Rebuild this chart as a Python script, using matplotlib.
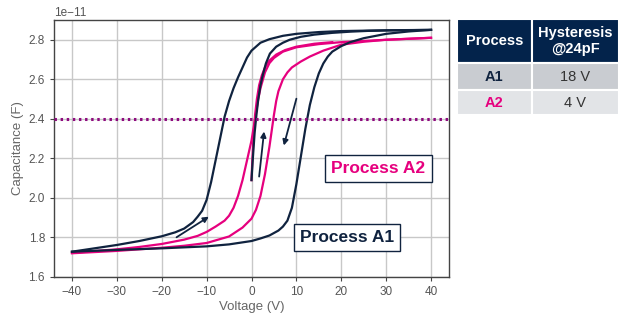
import numpy as np
import matplotlib
matplotlib.use("Agg")
import matplotlib.pyplot as plt

plt.rcParams["font.family"] = ["Liberation Sans", "DejaVu Sans"]

NAVY = "#10233f"
PINK = "#e6007e"
SCALE = 1e-11

# Process A1 (navy) - forward sweep -40 -> 40
a1_up_v = [-40, -35, -30, -25, -20, -17, -15, -13, -12, -11, -10, -9, -8, -7, -6, -5,
           -4, -3, -2, -1, 0, 2, 4, 7, 10, 15, 20, 30, 40]
a1_up_c = [1.728, 1.745, 1.762, 1.782, 1.806, 1.826, 1.845, 1.878, 1.905, 1.935, 1.99,
           2.08, 2.19, 2.30, 2.41, 2.49, 2.555, 2.61, 2.66, 2.71, 2.745, 2.785, 2.803,
           2.82, 2.83, 2.839, 2.844, 2.848, 2.850]
# Process A1 - reverse sweep 40 -> -40
a1_dn_v = [40, 35, 30, 25, 22, 20, 18, 17, 16, 15, 14, 13, 12, 11, 10, 9, 8, 7, 6, 4,
           2, 0, -5, -10, -20, -30, -40]
a1_dn_c = [2.850, 2.842, 2.830, 2.808, 2.788, 2.768, 2.74, 2.715, 2.68, 2.63, 2.56,
           2.47, 2.35, 2.21, 2.07, 1.95, 1.885, 1.855, 1.835, 1.81, 1.795, 1.782, 1.765,
           1.755, 1.745, 1.737, 1.728]
# Process A1 - first sweep starting at 0 V
a1_0_v = [0, 0.3, 0.7, 1.1, 1.5, 2.0, 2.5, 3.2, 4.1, 5.5, 7, 8.5, 11, 14, 18, 22, 26, 30, 40]
a1_0_c = [2.09, 2.2, 2.33, 2.42, 2.497, 2.57, 2.62, 2.68, 2.73, 2.765, 2.785, 2.8,
          2.815, 2.826, 2.835, 2.841, 2.845, 2.847, 2.85]

# Process A2 (pink) - forward sweep
a2_up_v = [-40, -35, -30, -25, -20, -15, -12, -10, -8, -6, -5, -4, -3, -2, -1, 0, 0.5,
           1, 1.5, 2, 3, 4, 5, 7, 10, 15, 20, 30, 40]
a2_up_c = [1.722, 1.731, 1.740, 1.752, 1.767, 1.789, 1.808, 1.828, 1.855, 1.885, 1.91,
           1.95, 2.01, 2.09, 2.19, 2.29, 2.36, 2.43, 2.50, 2.555, 2.635, 2.682, 2.708,
           2.74, 2.762, 2.778, 2.788, 2.80, 2.81]
# Process A2 - reverse sweep
a2_dn_v = [40, 30, 25, 20, 16, 13, 11, 9, 8, 7, 6, 5.5, 5, 4.5, 4, 3.5, 3, 2, 1, 0,
           -2, -5, -10, -15, -20, -30, -40]
a2_dn_c = [2.81, 2.80, 2.79, 2.775, 2.745, 2.715, 2.69, 2.66, 2.635, 2.6, 2.54, 2.49,
           2.42, 2.34, 2.26, 2.19, 2.12, 2.01, 1.94, 1.895, 1.85, 1.805, 1.772, 1.758,
           1.748, 1.732, 1.72]
# Process A2 - first sweep starting at 0 V
a2_0_v = [0, 0.2, 0.5, 0.8, 1.2, 1.7, 2.3, 3, 4, 5.5, 7.5, 10, 14, 18]
a2_0_c = [2.09, 2.2, 2.33, 2.42, 2.5, 2.57, 2.62, 2.66, 2.695, 2.725, 2.748, 2.765,
          2.78, 2.788]

# sweep direction arrows (start V, start C, end V, end C)
arrows = [(-16.7, 1.801, -9.5, 1.905), (1.7, 2.108, 2.8, 2.336), (10.0, 2.502, 7.2, 2.265)]

table_cols = ["Process", "Hysteresis\n@24pF"]
table_rows = [["A1", "18 V"], ["A2", "4 V"]]

fig = plt.figure(figsize=(6.19, 3.22), dpi=100)
ax = fig.add_axes([54 / 619, 1 - 277 / 322, 395 / 619, 257 / 322])

for v, c in [(a2_0_v, a2_0_c), (a2_up_v, a2_up_c), (a2_dn_v, a2_dn_c)]:
    ax.plot(v, np.array(c) * SCALE, color=PINK, lw=1.6)
for v, c in [(a1_0_v, a1_0_c), (a1_up_v, a1_up_c), (a1_dn_v, a1_dn_c)]:
    ax.plot(v, np.array(c) * SCALE, color=NAVY, lw=1.6)

ax.axhline(2.4 * SCALE, color="#8e0b7e", lw=2.2, ls=(0, (0.8, 1.2)), zorder=5)

for x0, y0, x1, y1 in arrows:
    ax.annotate("", xy=(x1, y1 * SCALE), xytext=(x0, y0 * SCALE),
                arrowprops=dict(arrowstyle="-|>", color=NAVY, lw=1.3,
                                mutation_scale=8, shrinkA=0, shrinkB=0))

ax.text(28.3, 2.15 * SCALE, "Process A2", color=PINK, fontsize=12.5, fontweight="bold",
        ha="center", va="center",
        bbox=dict(boxstyle="square,pad=0.35", fc="white", ec=NAVY, lw=1))
ax.text(21.2, 1.80 * SCALE, "Process A1", color=NAVY, fontsize=12.5, fontweight="bold",
        ha="center", va="center",
        bbox=dict(boxstyle="square,pad=0.35", fc="white", ec=NAVY, lw=1))

ax.set_xlim(-44, 44)
ax.set_ylim(1.6 * SCALE, 2.9 * SCALE)
ax.set_xticks(np.arange(-40, 41, 10))
ax.set_yticks(np.arange(1.6, 2.81, 0.2) * SCALE)
ax.grid(True, color="#c8c8c8", lw=1)
ax.set_axisbelow(True)
for s in ax.spines.values():
    s.set_color("#444444")
    s.set_linewidth(1)
ax.tick_params(colors="#444444", labelcolor="#555555", labelsize=8.5, length=3)
ax.yaxis.get_offset_text().set_fontsize(8.5)
ax.yaxis.get_offset_text().set_color("#555555")
ax.set_xlabel("Voltage (V)", fontsize=9.5, color="#666666", labelpad=2)
ax.set_ylabel("Capacitance (F)", fontsize=9.5, color="#666666", labelpad=3)

# table on the right
tax = fig.add_axes([457 / 619, 1 - 115 / 322, 162 / 619, 96 / 322])
tax.axis("off")
tbl = tax.table(cellText=table_rows, colLabels=table_cols, colWidths=[0.46, 0.54],
                cellLoc="center", bbox=[0, 0, 1, 1])
tbl.auto_set_font_size(False)
heights = [44, 27, 25]
row_colors = ["#03234b", "#c9ccd1", "#e2e4e7"]
for (r, c), cell in tbl.get_celld().items():
    cell.set_height(heights[r])
    cell.set_facecolor(row_colors[r])
    cell.set_edgecolor("white")
    cell.set_linewidth(1.5)
    t = cell.get_text()
    t.set_fontsize(10.5)
    if r == 0:
        t.set_color("white")
        t.set_fontweight("bold")
    elif c == 0:
        t.set_fontweight("bold")
        t.set_color(NAVY if r == 1 else PINK)
    else:
        t.set_color("#333333")

fig.savefig("out.png", dpi=100)
